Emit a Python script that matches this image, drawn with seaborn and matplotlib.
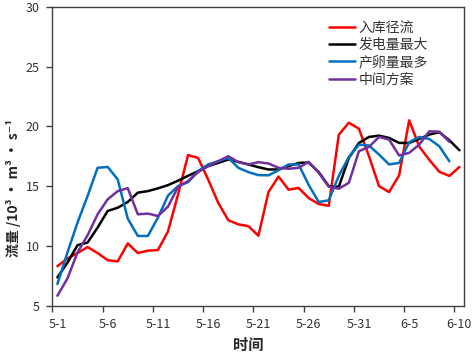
import numpy as np
import pandas as pd
import matplotlib
matplotlib.use("Agg")
import matplotlib.pyplot as plt
import seaborn as sns

sns.set_theme(style="white")
plt.rcParams['font.family'] = ['Noto Sans CJK SC', 'DejaVu Sans']
plt.rcParams['axes.unicode_minus'] = False

tick_labels = ["5-1", "5-6", "5-11", "5-16", "5-21", "5-26", "5-31", "6-5", "6-10"]
series_names = ["入库径流", "发电量最大", "产卵量最多", "中间方案"]
colors = ["#FF0000", "#000000", "#0070C0", "#7030A0"]

inflow = [8.3, 8.95, 9.4, 9.9, 9.4, 8.8, 8.7, 10.2, 9.4, 9.6, 9.65, 11.2, 14.3, 17.6,
          17.35, 15.55, 13.6, 12.15, 11.8, 11.65, 10.85, 14.5, 15.8, 14.7, 14.85, 14.0,
          13.5, 13.35, 19.3, 20.3, 19.8, 17.5, 15.0, 14.5, 15.9, 20.5, 18.3, 17.2, 16.2,
          15.85, 16.6]
max_power = [7.36, 8.6, 10.06, 10.28, 11.53, 12.92, 13.19, 13.67, 14.45, 14.58, 14.81,
             15.08, 15.45, 15.86, 16.25, 16.67, 16.94, 17.22, 17.03, 16.81, 16.58, 16.39,
             16.39, 16.67, 16.94, 16.97, 16.17, 15.0, 14.95, 17.36, 18.61, 19.11, 19.22,
             19.03, 18.61, 18.61, 18.94, 19.31, 19.5, 18.83, 18.0]
max_eggs = [6.81, 9.45, 11.95, 14.17, 16.53, 16.6, 15.56, 12.28, 10.83, 10.83, 12.36,
            14.2, 15.0, 15.33, 16.25, 16.81, 17.08, 17.36, 16.53, 16.17, 15.92, 15.9,
            16.33, 16.81, 16.81, 15.1, 13.67, 13.81, 15.86, 17.44, 18.47, 18.39, 17.64,
            16.81, 16.94, 18.67, 19.11, 18.94, 18.33, 17.08, np.nan]
middle = [5.83, 7.28, 9.45, 10.89, 12.64, 13.89, 14.58, 14.83, 12.64, 12.7, 12.5, 13.28,
          14.93, 15.42, 16.17, 16.67, 17.08, 17.5, 17.0, 16.81, 17.0, 16.89, 16.53, 16.45,
          16.53, 17.03, 16.11, 14.95, 14.78, 15.28, 17.92, 18.28, 19.11, 18.89, 17.56,
          17.78, 18.47, 19.58, 19.55, 18.7, np.nan]

n = len(inflow)
day = np.arange(n) + 0.5
frames = []
for name, vals in zip(series_names, [inflow, max_power, max_eggs, middle]):
    frames.append(pd.DataFrame({"day": day, "value": vals, "series": name}))
df = pd.concat(frames, ignore_index=True).dropna()

fig = plt.figure(figsize=(4.72, 3.55), dpi=100)
ax = fig.add_axes([0.111, 0.139, 0.873, 0.842])
sns.lineplot(data=df, x="day", y="value", hue="series", hue_order=series_names,
             palette=colors, linewidth=1.8, ax=ax, legend=True)

ax.set_xlim(0, 41)
ax.set_ylim(5, 30)
ax.set_xticks(np.arange(0, 41, 5))
ax.set_xticklabels([])
ax.set_xticks(np.arange(0, 41, 5) + 0.5, minor=True)
ax.set_xticklabels(tick_labels, minor=True)
ax.tick_params(axis="x", which="major", direction="out", length=4, width=1, color="#404040", bottom=True)
ax.tick_params(axis="x", which="minor", length=0, pad=9, labelsize=9, labelcolor="#333333", bottom=True)
ax.set_yticks([5, 10, 15, 20, 25, 30])
ax.tick_params(axis="y", direction="out", length=4, width=1, color="#404040", labelsize=9,
               labelcolor="#333333", left=True, pad=5)
for s in ax.spines.values():
    s.set_color("#404040")
    s.set_linewidth(1.0)

ax.set_xlabel("")
ax.set_ylabel("")
fig.text(0.525, 0.028, "时间", ha="center", va="center", fontsize=11, fontweight="bold")
fig.text(0.028, 0.47, "流量 /10³ · m³ · s⁻¹", rotation=90, ha="center", va="center",
         fontsize=10, fontweight="bold", family=["Noto Sans CJK SC", "DejaVu Serif"])

leg = ax.legend(loc="upper left", bbox_to_anchor=(0.658, 0.972), frameon=False,
                fontsize=10, handlelength=1.9, handletextpad=0.2, labelspacing=0.24,
                borderaxespad=0)
for t in leg.get_texts():
    t.set_color("#333333")
for line in leg.get_lines():
    line.set_linewidth(1.8)

fig.savefig("out.png", dpi=100)
